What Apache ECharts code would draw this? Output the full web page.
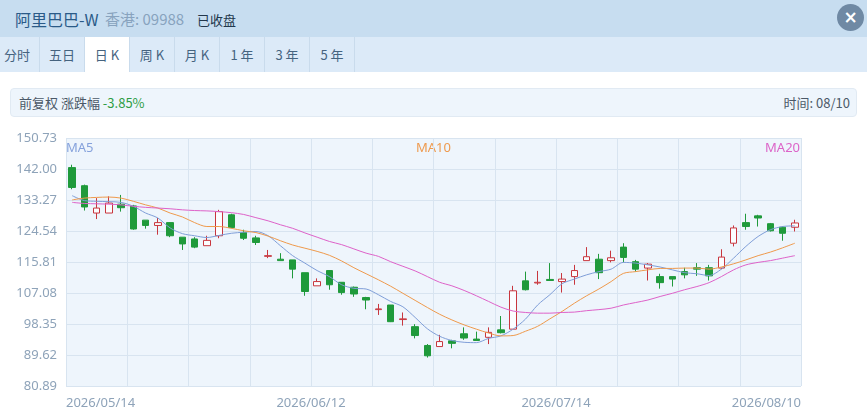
<!DOCTYPE html>
<html lang="zh-CN">
<head>
<meta charset="utf-8">
<title>阿里巴巴-W 日K</title>
<script src="https://cdn.jsdelivr.net/npm/echarts@6/dist/echarts.min.js"></script>
<style>
  html, body { margin: 0; padding: 0; background: #fff; }
  body { width: 867px; height: 412px; position: relative; overflow: hidden;
         font-family: "Noto Sans CJK SC", "Noto Sans", sans-serif; }
  #klineChart { position: absolute; left: 0; top: 0; width: 867px; height: 412px; }
  .head { position: absolute; left: 0; top: 0; width: 867px; height: 37px; background: #c7ddf0; z-index: 2; }
  .head .name { position: absolute; left: 15px; top: 7px; font-size: 16px; color: #2a5a88; }
  .head .code { position: absolute; left: 105px; top: 8px; font-size: 15px; color: #88a3be; }
  .head .state { position: absolute; left: 197px; top: 10px; font-size: 13px; color: #22374c; }
  .head .close { position: absolute; left: 837px; top: 4px; width: 27px; height: 27px; border-radius: 50%;
                 background: #6f89a4; color: #fff; font-size: 17px; line-height: 26px; text-align: center;
                 font-family: "DejaVu Sans", sans-serif; font-weight: bold; }
  .tabs { position: absolute; left: 0; top: 37px; width: 867px; height: 35px; background: #dceaf8; z-index: 2; }
  .tabs span { position: absolute; top: 0; width: 44px; height: 35px; line-height: 35px; text-align: center;
               font-size: 13px; color: #45637f; border-right: 1px solid #c9dbec; }
  .tabs span.on { background: #fff; }
  .info { position: absolute; left: 10px; top: 88px; width: 845px; height: 27px; background: #eef5fc;
          border: 1px solid #e1eaf3; border-radius: 4px; z-index: 2; font-size: 13px; color: #4b5968; }
  .info .l { position: absolute; left: 8px; top: 4px; }
  .info .l em { font-style: normal; color: #2e9d45; }
  .info .r { position: absolute; right: 6px; top: 4px; }
</style>
</head>
<body>
<div class="head">
  <span class="name">阿里巴巴-W</span>
  <span class="code">香港: 09988</span>
  <span class="state">已收盘</span>
  <span class="close">×</span>
</div>
<div class="tabs">
  <span style="left:-5px">分时</span>
  <span style="left:40px">五日</span>
  <span style="left:85px" class="on">日 K</span>
  <span style="left:130px">周 K</span>
  <span style="left:175px">月 K</span>
  <span style="left:220px">1 年</span>
  <span style="left:265px">3 年</span>
  <span style="left:310px">5 年</span>
</div>
<div class="info">
  <span class="l">前复权 涨跌幅 <em>-3.85%</em></span>
  <span class="r">时间: 08/10</span>
</div>
<div id="klineChart"></div>

<script>
// 交易日（港股，已剔除假期）
const dates = [
  '2026/05/14', '2026/05/15', '2026/05/18', '2026/05/19', '2026/05/20', '2026/05/21', '2026/05/22',
  '2026/05/26', '2026/05/27', '2026/05/28', '2026/05/29', '2026/06/01', '2026/06/02', '2026/06/03',
  '2026/06/04', '2026/06/05', '2026/06/08', '2026/06/09', '2026/06/10', '2026/06/11', '2026/06/12',
  '2026/06/15', '2026/06/16', '2026/06/17', '2026/06/18', '2026/06/22', '2026/06/23', '2026/06/24',
  '2026/06/25', '2026/06/26', '2026/06/29', '2026/06/30', '2026/07/02', '2026/07/03', '2026/07/06',
  '2026/07/07', '2026/07/08', '2026/07/09', '2026/07/10', '2026/07/13', '2026/07/14', '2026/07/15',
  '2026/07/16', '2026/07/17', '2026/07/20', '2026/07/21', '2026/07/22', '2026/07/23', '2026/07/24',
  '2026/07/27', '2026/07/28', '2026/07/29', '2026/07/30', '2026/07/31', '2026/08/03', '2026/08/04',
  '2026/08/05', '2026/08/06', '2026/08/07', '2026/08/10'
];

// 开盘 / 收盘 / 最低 / 最高
const openPx = [
  142.4, 137.3, 129.6, 129.6, 132.1, 131.6, 127.6, 126.1, 126.9, 122.8,
  122.3, 120.4, 123.2, 129.1, 124.1, 122.6, 117.4, 116.6, 116.4, 112.8,
  109.1, 113.4, 110.1, 108.7, 105.8, 102.4, 103.7, 99.6, 97.6, 92.3,
  92.0, 93.6, 95.6, 94.1, 94.6, 96.7, 96.9, 110.5, 109.9, 110.9,
  110.3, 111.7, 116.2, 116.6, 116.2, 120.0, 115.9, 114.1, 111.7, 111.7,
  113.1, 114.2, 114.2, 114.1, 121.1, 126.9, 128.8, 126.6, 125.6, 125.6
];
const closePx = [
  136.8, 131.3, 131.0, 132.4, 131.1, 125.1, 126.1, 126.9, 123.2, 120.9,
  120.0, 121.9, 130.0, 125.5, 122.5, 121.3, 117.6, 116.2, 113.8, 107.5,
  110.3, 109.4, 107.2, 106.8, 105.1, 102.6, 99.0, 99.8, 95.1, 89.4,
  93.4, 92.9, 94.4, 93.7, 96.0, 95.9, 107.7, 108.0, 110.1, 110.6,
  111.0, 113.4, 117.3, 112.8, 117.0, 117.1, 113.8, 115.2, 110.0, 111.0,
  112.2, 113.8, 111.9, 117.2, 125.4, 125.8, 128.2, 124.6, 123.9, 126.8
];
const lowPx = [
  136.3, 130.3, 127.9, 129.6, 130.0, 124.9, 125.2, 123.5, 122.8, 119.2,
  119.7, 120.4, 122.5, 125.3, 122.0, 120.6, 116.9, 116.2, 111.2, 106.3,
  109.1, 108.0, 106.6, 106.0, 102.5, 100.9, 98.9, 97.9, 94.3, 88.9,
  92.0, 91.5, 93.9, 93.7, 92.7, 95.7, 96.9, 107.8, 109.4, 110.5,
  107.2, 109.4, 116.2, 111.0, 115.7, 115.7, 113.1, 110.6, 108.3, 108.9,
  111.2, 111.9, 110.6, 113.8, 120.2, 124.9, 125.8, 124.4, 121.8, 124.4
];
const highPx = [
  143.2, 137.6, 133.8, 134.3, 134.7, 131.9, 127.6, 128.2, 127.0, 122.8,
  122.8, 123.2, 130.5, 129.4, 124.9, 123.2, 119.2, 118.3, 116.4, 112.8,
  111.2, 113.4, 110.1, 108.9, 106.0, 104.0, 103.7, 101.6, 98.3, 92.7,
  95.3, 93.9, 97.4, 96.2, 97.4, 100.6, 109.1, 113.1, 113.3, 115.5,
  112.7, 115.0, 120.0, 118.1, 119.0, 121.1, 116.4, 115.5, 112.5, 111.7,
  114.2, 115.5, 115.0, 119.4, 126.1, 129.4, 129.1, 126.8, 125.8, 127.7
];

// 均线
const ma5 = [
  134.5, 133.1, 132.9, 132.8, 132.6, 131.5, 129.6, 128.2, 125.4, 123.8,
  123.2, 122.7, 123.3, 123.9, 124.2, 124.4, 123.2, 120.4, 117.6, 115.5,
  113.4, 111.7, 109.4, 108.4, 108.2, 106.6, 104.7, 103.2, 100.2, 97.0,
  94.9, 93.7, 93.2, 93.1, 94.3, 95.0, 96.9, 99.7, 103.7, 106.6,
  109.7, 111.0, 112.2, 113.1, 113.8, 115.7, 115.5, 115.0, 114.4, 113.6,
  112.8, 112.5, 112.0, 113.8, 116.9, 120.2, 123.0, 124.9, 125.8, 126.0
];
const ma10 = [
  133.3, 133.8, 134.0, 134.1, 133.8, 132.9, 131.9, 131.0, 129.6, 128.5,
  126.9, 125.8, 125.8, 125.3, 124.6, 124.1, 123.1, 121.8, 120.6, 119.7,
  118.8, 117.7, 116.1, 114.2, 112.5, 110.8, 109.0, 107.0, 105.0, 103.0,
  101.1, 99.5, 98.1, 96.9, 95.8, 95.0, 95.1, 96.3, 97.7, 99.8,
  101.9, 104.2, 106.3, 108.2, 110.3, 112.6, 113.1, 113.6, 114.0, 114.0,
  114.1, 114.1, 113.8, 114.4, 115.3, 116.4, 117.6, 118.6, 119.8, 121.1
];
const ma20 = [
  132.6, 132.3, 132.2, 132.1, 131.9, 131.5, 131.2, 131.0, 130.8, 130.5,
  130.3, 130.2, 130.0, 129.7, 129.2, 128.3, 127.4, 126.3, 125.3, 124.0,
  122.8, 121.6, 120.7, 119.5, 118.3, 117.4, 115.9, 114.6, 113.3, 111.7,
  110.1, 109.1, 107.8, 106.3, 104.7, 103.1, 102.0, 101.6, 101.4, 101.4,
  101.6, 101.7, 102.1, 102.4, 102.8, 103.7, 104.4, 105.1, 106.1, 107.0,
  108.0, 108.9, 110.0, 111.7, 113.6, 115.0, 115.7, 116.2, 116.9, 117.6
];

// 纵轴刻度
const yMin = 80.89;
const yMax = 150.73;
const yStep = 8.73;

const UP_COLOR = '#c8363e';
const DOWN_COLOR = '#1f9a3b';
const AXIS_TEXT = '#8ea3b9';

function initKlineChart() {
  const el = document.getElementById('klineChart');
  if (!el || !window.echarts) {
    console.error('[kline] 图表容器或 echarts 未就绪');
    return;
  }
  const chart = echarts.init(el);

  // ECharts 蜡烛图数据格式：[open, close, lowest, highest]
  const kData = dates.map((d, i) => [openPx[i], closePx[i], lowPx[i], highPx[i]]);

  const maLine = (name, data, color) => ({
    name,
    type: 'line',
    data,
    xAxisIndex: 0,
    symbol: 'none',
    smooth: 0.3,
    lineStyle: { width: 1, color },
    z: 3
  });

  const option = {
    animation: false,
    textStyle: { fontFamily: 'Noto Sans' },
    grid: {
      left: 66, right: 66, top: 138, bottom: 26,
      show: true, backgroundColor: '#eef5fc', borderWidth: 0
    },
    graphic: [
      { type: 'text', left: 66, top: 142, style: { text: 'MA5', fill: '#86a2dc', font: '13px "Noto Sans"' } },
      { type: 'text', left: 'center', top: 142, style: { text: 'MA10', fill: '#ee9a4e', font: '13px "Noto Sans"' } },
      { type: 'text', right: 67, top: 142, style: { text: 'MA20', fill: '#dc64c8', font: '13px "Noto Sans"' } }
    ],
    xAxis: [
      {
        // 蜡烛所在的类目轴
        type: 'category',
        data: dates,
        boundaryGap: true,
        axisLine: { show: false },
        axisTick: { show: false },
        axisLabel: { show: false },
        splitLine: { show: false }
      },
      {
        // 只负责网格和日期标签（标签落在分隔线上）
        type: 'value',
        min: 0,
        max: dates.length,
        interval: 5,
        position: 'bottom',
        axisLine: { show: false },
        axisTick: { show: false },
        splitLine: { show: true, lineStyle: { color: '#d8e4f0', width: 1 } },
        axisLabel: {
          color: AXIS_TEXT,
          fontSize: 13,
          margin: 11,
          alignMinLabel: 'left',
          alignMaxLabel: 'right',
          formatter: function (v) {
            if (v % 20 !== 0) return '';
            return dates[Math.min(v, dates.length - 1)];
          }
        }
      }
    ],
    yAxis: {
      type: 'value',
      min: yMin,
      max: yMax,
      interval: yStep,
      scale: true,
      axisLine: { show: false },
      axisTick: { show: false },
      splitLine: { lineStyle: { color: '#d8e4f0', width: 1 } },
      axisLabel: {
        color: AXIS_TEXT,
        fontSize: 13,
        margin: 9,
        formatter: v => v.toFixed(2)
      }
    },
    series: [
      {
        name: '日K',
        type: 'candlestick',
        data: kData,
        xAxisIndex: 0,
        barWidth: 7,
        itemStyle: {
          color: '#fbfdff',
          color0: DOWN_COLOR,
          borderColor: UP_COLOR,
          borderColor0: DOWN_COLOR,
          borderWidth: 1
        },
        z: 2
      },
      maLine('MA5', ma5, '#7f9ed8'),
      maLine('MA10', ma10, '#ef9a4c'),
      maLine('MA20', ma20, '#de62c9')
    ]
  };

  chart.setOption(option);
  window.addEventListener('resize', () => chart.resize());
}

initKlineChart();
</script>
</body>
</html>
